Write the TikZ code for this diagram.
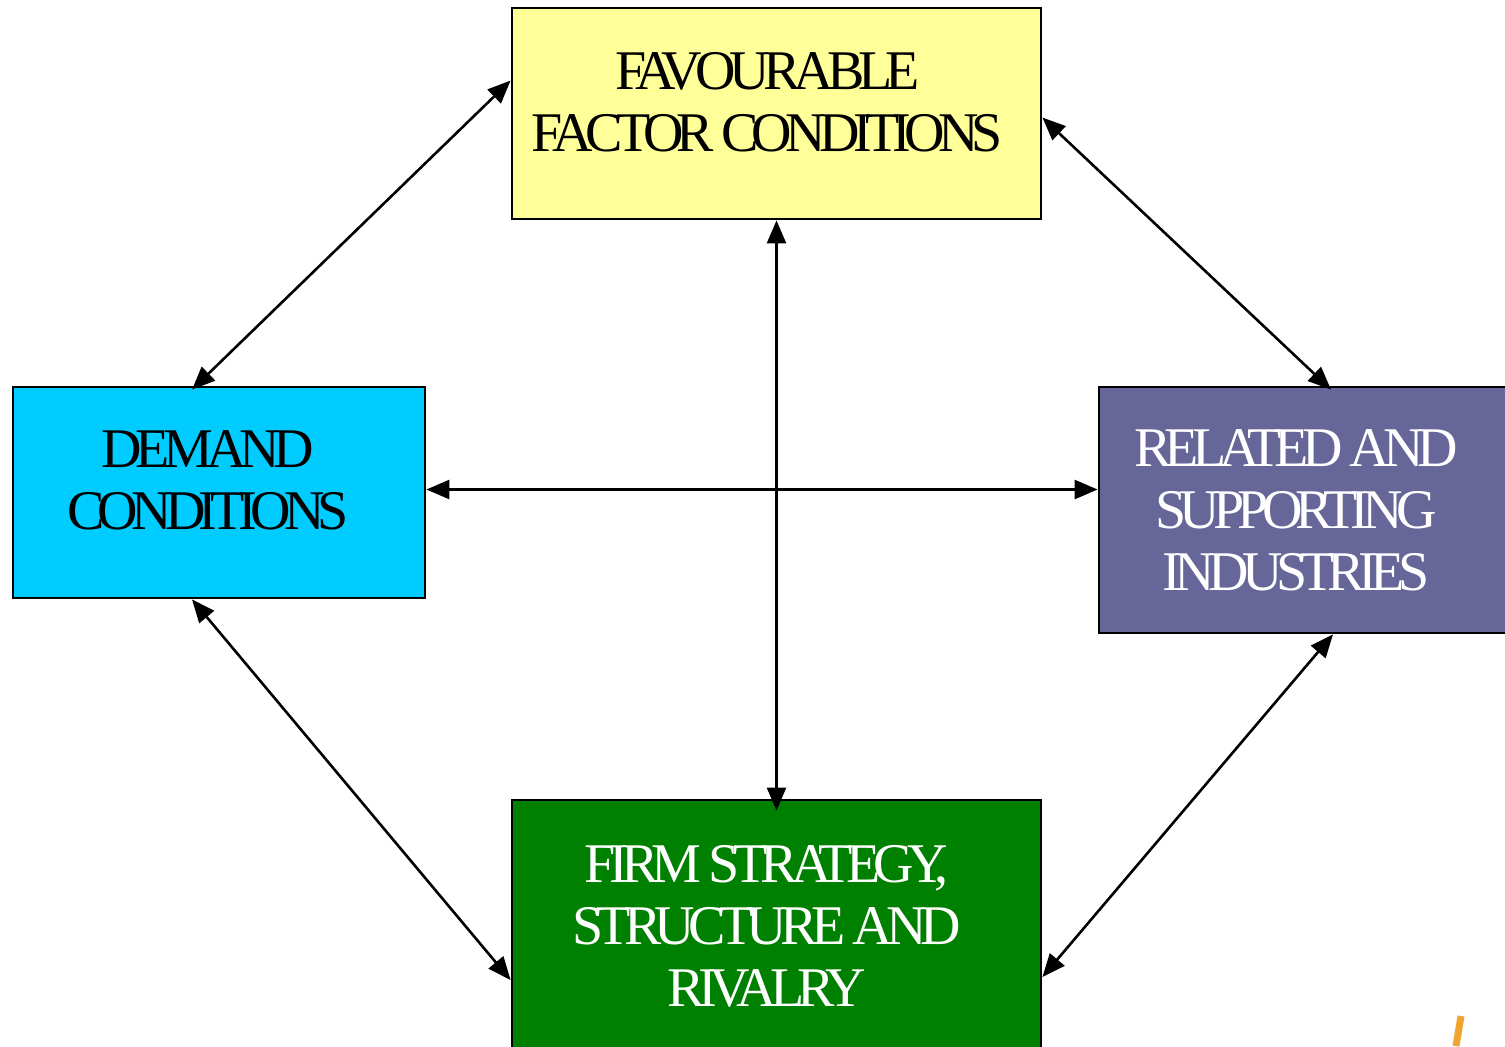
\documentclass[tikz,border=0pt]{standalone}
\usepackage{fontspec}
\setmainfont{Liberation Serif}[LetterSpace=-12]
\usepackage{tikz}
\usetikzlibrary{calc}
\usetikzlibrary{arrows.meta}
\usetikzlibrary{positioning}
\definecolor{FactorYellow}{HTML}{FFFF99}
\definecolor{DemandCyan}{HTML}{00CCFF}
\definecolor{RelatedPurple}{HTML}{666699}
\definecolor{FirmGreen}{HTML}{008000}
\definecolor{MarkOrange}{HTML}{F2A431}

\begin{document}
\begin{tikzpicture}[
		x=0.5pt, y=-0.5pt,
		MyBoxes/.style={draw=black,line width=1.4pt,inner sep=0pt},
		MyLabels/.style={align=center,inner sep=0pt,font=\fontsize{28}{31}\selectfont},
		MyArrows/.style={{Triangle[length=11.5pt, width=9.5pt]}-{Triangle[length=11.5pt, width=9.5pt]}, line width=1.3pt},
		every node/.style={scale=1}
		]
		\useasboundingbox (0,0) rectangle (1505,1046);
		\clip (0,0) rectangle (1505,1046);
		
		% the four boxes
		\node[MyBoxes, fill=FactorYellow, minimum width=264.5pt, minimum height=105.5pt] (factor) at (776.5,113.5) {};
		\node[MyBoxes, fill=DemandCyan, minimum width=206pt, minimum height=105.5pt] (demand) at (219,492.5) {};
		\node[MyBoxes, fill=RelatedPurple, minimum width=206pt, minimum height=123pt] (related) at (1305,510) {};
		\node[MyBoxes, fill=FirmGreen, minimum width=264.5pt, minimum height=130pt] (firm) at (776.5,930) {};
		
		% their texts
		\node[MyLabels] (factortext) at ([xshift=-4.5pt,yshift=5.5pt]factor.center) {FAVOURABLE\\FACTOR CONDITIONS};
		\node[MyLabels] (demandtext) at ([xshift=-5.5pt,yshift=6pt]demand.center) {DEMAND\\CONDITIONS};
		\node[MyLabels, text=white] (relatedtext) at ([xshift=-4.5pt]related.center) {RELATED AND\\SUPPORTING\\INDUSTRIES};
		\node[MyLabels, text=white] (firmtext) at ([xshift=-5pt,yshift=2pt]firm.center) {FIRM STRATEGY,\\STRUCTURE AND\\RIVALRY};
		
		% links between the boxes
		\draw[MyArrows] ([yshift=16.5pt]factor.west) -- ([xshift=-13.5pt,yshift=-2pt]demand.north);
		\draw[MyArrows] ([yshift=-2pt]factor.east) -- ([xshift=13pt,yshift=-2pt]related.north);
		\draw[MyArrows] ([xshift=-13.5pt]demand.south) -- ([yshift=-25pt]firm.west);
		\draw[MyArrows] ([xshift=14pt]related.south) -- ([yshift=-23.5pt]firm.east);
		\draw[MyArrows] (factor.south) -- ([yshift=-6pt]firm.north);
		\draw[MyArrows] ([yshift=1.5pt]demand.east) -- ([yshift=1.5pt]demand.east -| related.west);
		
		%small mark in the corner
		\draw[MarkOrange, line width=3.5pt] (1461,1016) -- (1456,1046);
		
\end{tikzpicture}
\end{document}
